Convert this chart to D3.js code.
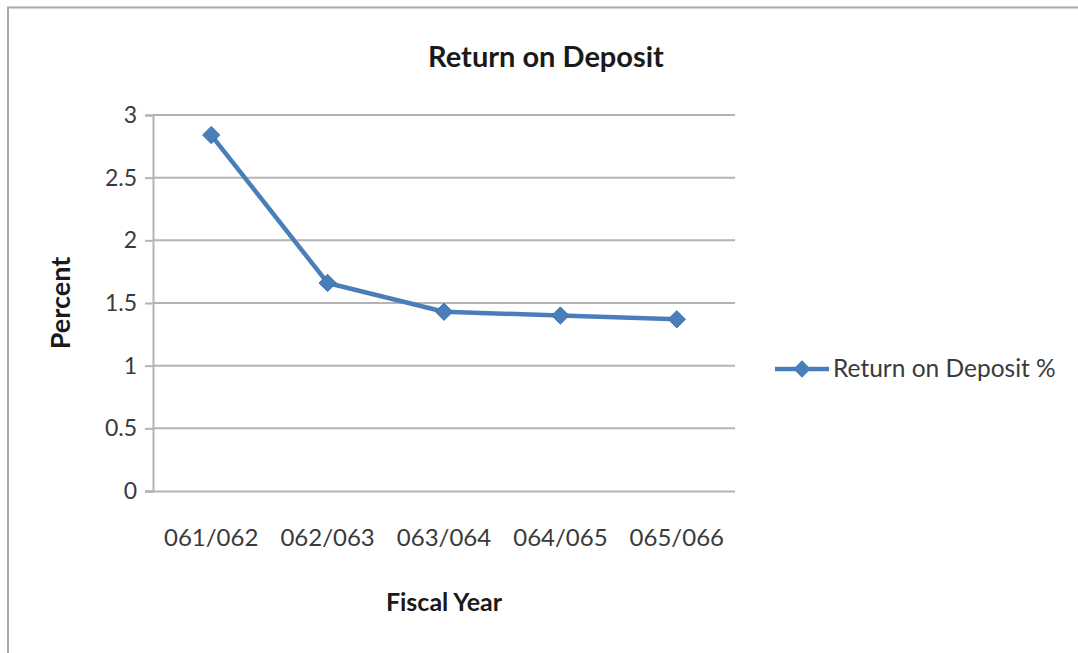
<!DOCTYPE html>
<html>
<head>
<meta charset="utf-8">
<script src="https://cdn.jsdelivr.net/npm/d3@7"></script>
<style>
  html, body { margin: 0; padding: 0; background: #fff; }
  svg { display: block; font-family: Lato, "Open Sans", sans-serif; }
</style>
</head>
<body>
<svg id="chart" width="1078" height="653"></svg>
<script>
// Return on deposit by fiscal year (percent)
const fiscalYears = ["061/062", "062/063", "063/064", "064/065", "065/066"];
const returnOnDeposit = [2.84, 1.66, 1.43, 1.40, 1.37];
const yTicks = [0, 0.5, 1, 1.5, 2, 2.5, 3];

const chartTitle = "Return on Deposit";
const xTitle = "Fiscal Year";
const yTitle = "Percent";
const seriesName = "Return on Deposit %";

const svg = d3.select("#chart");
const W = 1078, H = 653;
const plot = { left: 153, right: 735, top: 115, bottom: 491 };
const blue = "#4a7ebb";
const grid = "#b4b4b4";

// outer chart frame
svg.append("path")
  .attr("d", `M8,${H} L8,7.5 L${W},7.5`)
  .attr("fill", "none")
  .attr("stroke", "#a8a8a8")
  .attr("stroke-width", 2);

const x = d3.scaleBand().domain(fiscalYears).range([plot.left, plot.right]);
const y = d3.scaleLinear().domain([0, 3]).range([plot.bottom, plot.top]);

// horizontal gridlines
svg.append("g")
  .selectAll("line")
  .data(yTicks.filter(d => d > 0))
  .join("line")
  .attr("x1", plot.left).attr("x2", plot.right)
  .attr("y1", d => y(d)).attr("y2", d => y(d))
  .attr("stroke", grid).attr("stroke-width", 2);

// y axis
const yAxis = svg.append("g")
  .attr("transform", `translate(${plot.left},0)`)
  .call(d3.axisLeft(y).tickValues(yTicks).tickFormat(d3.format("")).tickSize(8).tickPadding(8));
yAxis.select(".domain").attr("stroke", grid).attr("stroke-width", 2);
yAxis.selectAll(".tick line").attr("stroke", grid).attr("stroke-width", 2);
yAxis.selectAll(".tick text")
  .attr("fill", "#3a3a3a")
  .style("font-size", "23px")
  .style("font-family", "Lato, sans-serif");

// x axis
const xAxis = svg.append("g")
  .attr("transform", `translate(0,${plot.bottom})`)
  .call(d3.axisBottom(x).tickSize(0).tickPadding(38));
xAxis.select(".domain")
  .attr("d", `M${plot.left - 8},0.5H${plot.right}`)
  .attr("stroke", grid).attr("stroke-width", 2);
xAxis.selectAll(".tick text")
  .attr("fill", "#3a3a3a")
  .style("font-size", "24px")
  .style("font-family", "Lato, sans-serif");

// series line
const line = d3.line()
  .x((d, i) => x(fiscalYears[i]) + x.bandwidth() / 2)
  .y(d => y(d));
svg.append("path")
  .datum(returnOnDeposit)
  .attr("d", line)
  .attr("fill", "none")
  .attr("stroke", blue)
  .attr("stroke-width", 4.5)
  .attr("stroke-linejoin", "round");

// diamond markers
const diamond = d3.symbol().type(d3.symbolDiamond2).size(190);
svg.append("g")
  .selectAll("path")
  .data(returnOnDeposit)
  .join("path")
  .attr("d", diamond)
  .attr("transform", (d, i) => `translate(${x(fiscalYears[i]) + x.bandwidth() / 2},${y(d)})`)
  .attr("fill", blue)
  .attr("stroke", "#3f70ab")
  .attr("stroke-width", 1);

// titles
svg.append("text")
  .attr("x", 546).attr("y", 67)
  .attr("text-anchor", "middle")
  .attr("font-weight", "bold")
  .attr("font-size", 29)
  .attr("fill", "#1a1a1a")
  .text(chartTitle);

svg.append("text")
  .attr("transform", `translate(70,${(plot.top + plot.bottom) / 2}) rotate(-90)`)
  .attr("text-anchor", "middle")
  .attr("font-weight", "bold")
  .attr("font-size", 27)
  .attr("fill", "#1a1a1a")
  .text(yTitle);

svg.append("text")
  .attr("x", 444).attr("y", 611)
  .attr("text-anchor", "middle")
  .attr("font-weight", "bold")
  .attr("font-size", 25)
  .attr("fill", "#1a1a1a")
  .text(xTitle);

// legend
const legend = svg.append("g").attr("transform", "translate(775,369)");
legend.append("line")
  .attr("x1", 0).attr("x2", 54).attr("y1", 0).attr("y2", 0)
  .attr("stroke", blue).attr("stroke-width", 4.5);
legend.append("path")
  .attr("d", diamond)
  .attr("transform", "translate(27,0)")
  .attr("fill", blue);
legend.append("text")
  .attr("x", 58).attr("y", 8)
  .attr("font-size", 24.5)
  .attr("fill", "#3a3a3a")
  .text(seriesName);
</script>
</body>
</html>
